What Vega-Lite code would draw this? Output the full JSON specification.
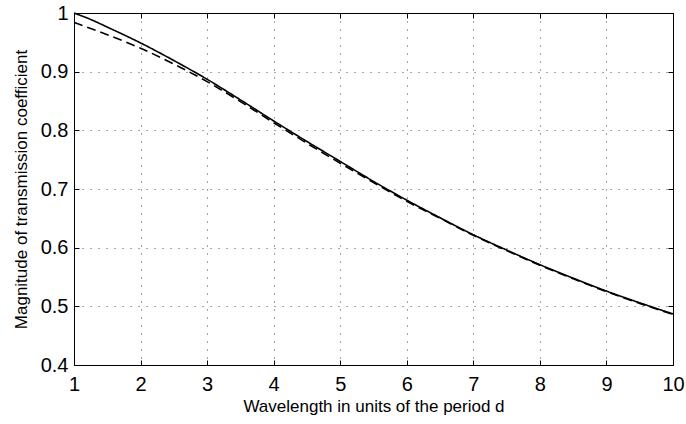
{
  "$schema": "https://vega.github.io/schema/vega-lite/v6.json",
  "width": 599,
  "height": 352,
  "autosize": {"type": "none"},
  "padding": {"left": 74, "top": 13, "right": 13, "bottom": 59},
  "background": "white",
  "config": {
    "view": {"stroke": "black", "strokeWidth": 1},
    "font": "Liberation Sans",
    "axis": {
      "labelFont": "Liberation Sans",
      "titleFont": "Liberation Sans",
      "labelFontSize": 20,
      "titleFontSize": 17,
      "titleFontWeight": "normal",
      "labelColor": "black",
      "titleColor": "black",
      "domain": false,
      "tickColor": "black",
      "tickSize": -5,
      "gridColor": "black",
      "gridOpacity": 0.7,
      "gridDash": [1, 7],
      "gridWidth": 1
    }
  },
  "data": {
    "values": [
      {"x": 1, "v": 1.0, "s": "exact"},
      {"x": 1.25, "v": 0.989, "s": "exact"},
      {"x": 1.5, "v": 0.976, "s": "exact"},
      {"x": 2, "v": 0.949, "s": "exact"},
      {"x": 2.5, "v": 0.919, "s": "exact"},
      {"x": 3, "v": 0.887, "s": "exact"},
      {"x": 3.5, "v": 0.852, "s": "exact"},
      {"x": 4, "v": 0.816, "s": "exact"},
      {"x": 4.5, "v": 0.781, "s": "exact"},
      {"x": 5, "v": 0.747, "s": "exact"},
      {"x": 5.5, "v": 0.713, "s": "exact"},
      {"x": 6, "v": 0.681, "s": "exact"},
      {"x": 6.5, "v": 0.651, "s": "exact"},
      {"x": 7, "v": 0.622, "s": "exact"},
      {"x": 7.5, "v": 0.596, "s": "exact"},
      {"x": 8, "v": 0.571, "s": "exact"},
      {"x": 8.5, "v": 0.548, "s": "exact"},
      {"x": 9, "v": 0.526, "s": "exact"},
      {"x": 9.5, "v": 0.506, "s": "exact"},
      {"x": 10, "v": 0.487, "s": "exact"},
      {"x": 1, "v": 0.984, "s": "approx"},
      {"x": 1.5, "v": 0.963, "s": "approx"},
      {"x": 2, "v": 0.94, "s": "approx"},
      {"x": 2.5, "v": 0.913, "s": "approx"},
      {"x": 3, "v": 0.883, "s": "approx"},
      {"x": 3.5, "v": 0.849, "s": "approx"},
      {"x": 4, "v": 0.813, "s": "approx"},
      {"x": 4.5, "v": 0.778, "s": "approx"},
      {"x": 5, "v": 0.744, "s": "approx"},
      {"x": 5.5, "v": 0.711, "s": "approx"},
      {"x": 6, "v": 0.679, "s": "approx"},
      {"x": 6.5, "v": 0.65, "s": "approx"},
      {"x": 7, "v": 0.621, "s": "approx"},
      {"x": 7.5, "v": 0.595, "s": "approx"},
      {"x": 8, "v": 0.57, "s": "approx"},
      {"x": 8.5, "v": 0.547, "s": "approx"},
      {"x": 9, "v": 0.525, "s": "approx"},
      {"x": 9.5, "v": 0.505, "s": "approx"},
      {"x": 10, "v": 0.486, "s": "approx"}
    ]
  },
  "layer": [
    {
      "mark": {"type": "line", "color": "black", "strokeWidth": 1.6, "interpolate": "monotone"},
      "encoding": {
        "x": {
          "field": "x", "type": "quantitative",
          "scale": {"domain": [1, 10], "nice": false, "zero": false},
          "axis": {"orient": "bottom", "values": [1,2,3,4,5,6,7,8,9,10], "grid": true, "title": "Wavelength in units of the period d", "labelPadding": 14, "titlePadding": 4, "labelFlush": false}
        },
        "y": {
          "field": "v", "type": "quantitative",
          "scale": {"domain": [0.4, 1], "nice": false, "zero": false},
          "axis": {"orient": "left", "values": [0.4,0.5,0.6,0.7,0.8,0.9,1], "grid": true, "title": "Magnitude of transmission coefficient", "labelPadding": 11, "titlePadding": 10, "labelFlush": false, "labelExpr": "datum.value == 1 ? '1' : format(datum.value, '.1f')"}
        },
        "strokeDash": {
          "field": "s", "type": "nominal",
          "scale": {"domain": ["exact", "approx"], "range": [[1, 0], [9, 5]]},
          "legend": null
        }
      }
    },
    {
      "mark": {"type": "line", "opacity": 0},
      "encoding": {
        "x": {
          "field": "x", "type": "quantitative",
          "scale": {"domain": [1, 10], "nice": false, "zero": false},
          "axis": {"orient": "top", "values": [1,2,3,4,5,6,7,8,9,10], "grid": false, "labels": false, "title": null}
        },
        "y": {
          "field": "v", "type": "quantitative",
          "scale": {"domain": [0.4, 1], "nice": false, "zero": false},
          "axis": {"orient": "right", "values": [0.4,0.5,0.6,0.7,0.8,0.9,1], "grid": false, "labels": false, "title": null}
        }
      }
    }
  ],
  "resolve": {"axis": {"x": "independent", "y": "independent"}}
}
